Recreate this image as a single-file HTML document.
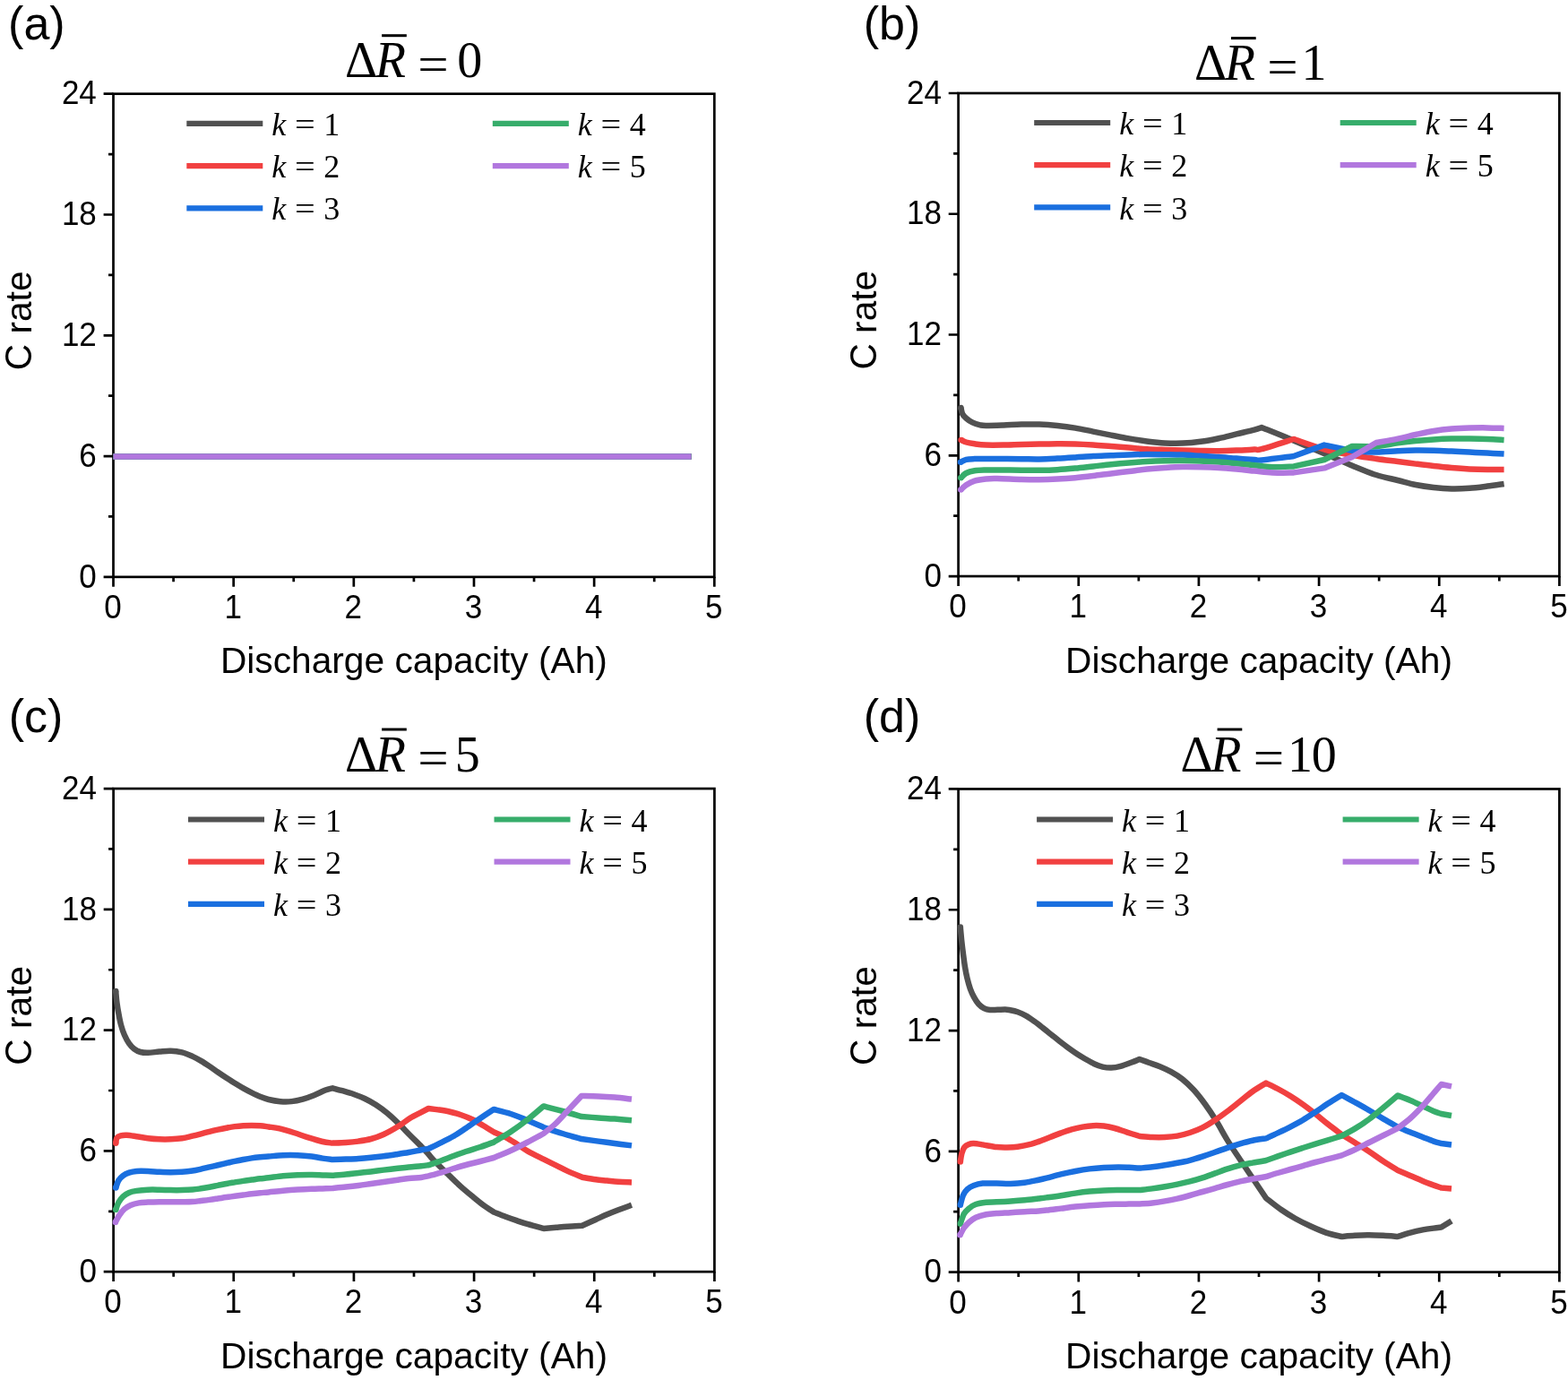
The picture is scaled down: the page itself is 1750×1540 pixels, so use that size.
<!DOCTYPE html>
<html lang="en"><head><meta charset="utf-8"><title>C rate vs discharge capacity</title>
<style>
html,body{margin:0;padding:0;background:#fff;}
body{width:1750px;height:1540px;overflow:hidden;}
svg{display:block;}
text{fill:#000;}
.tk text{font-family:"Liberation Sans",sans-serif;font-size:35px;}
.lab{font-family:"Liberation Sans",sans-serif;font-size:40.7px;}
.pan{font-family:"Liberation Sans",sans-serif;font-size:52px;}
.leg text{font-family:"Liberation Serif",serif;font-size:36px;}
.tit text{font-family:"Liberation Serif",serif;font-size:56px;}
</style></head><body>
<svg width="1750" height="1540" viewBox="0 0 1750 1540">
<rect width="1750" height="1540" fill="#fff"/>
<g class="panel" id="panel-a">
<rect x="126.5" y="104.7" width="670.8" height="539.15" fill="none" stroke="#000" stroke-width="2.7"/>
<path d="M126.5 643.85 v10.9M193.58 643.85 v5.5M260.66 643.85 v10.9M327.74 643.85 v5.5M394.82 643.85 v10.9M461.9 643.85 v5.5M528.98 643.85 v10.9M596.06 643.85 v5.5M663.14 643.85 v10.9M730.22 643.85 v5.5M797.3 643.85 v10.9M126.5 643.85 h-10.9M126.5 576.46 h-5.5M126.5 509.06 h-10.9M126.5 441.67 h-5.5M126.5 374.28 h-10.9M126.5 306.88 h-5.5M126.5 239.49 h-10.9M126.5 172.09 h-5.5M126.5 104.7 h-10.9" stroke="#000" stroke-width="2.7" fill="none"/>
<g fill="none" stroke-width="6.5" stroke-linejoin="round" stroke-linecap="butt">
<path stroke="#515151" d="M126.5 509.5L771.4 509.5"/>
<path stroke="#F14040" d="M126.5 509.5L771.4 509.5"/>
<path stroke="#1A6FDF" d="M126.5 509.5L771.4 509.5"/>
<path stroke="#37AD6B" d="M126.5 509.5L771.4 509.5"/>
<path stroke="#B177DE" d="M126.5 509.5L771.4 509.5"/>
</g>
<g class="tk" text-anchor="middle">
<text transform="translate(126 689.8) scale(1 1.04)">0</text>
<text transform="translate(260.16 689.8) scale(1 1.04)">1</text>
<text transform="translate(394.32 689.8) scale(1 1.04)">2</text>
<text transform="translate(528.48 689.8) scale(1 1.04)">3</text>
<text transform="translate(662.64 689.8) scale(1 1.04)">4</text>
<text transform="translate(796.8 689.8) scale(1 1.04)">5</text>
</g>
<g class="tk" text-anchor="end">
<text transform="translate(107.8 655.55) scale(1 1.04)">0</text>
<text transform="translate(107.8 520.76) scale(1 1.04)">6</text>
<text transform="translate(107.8 385.98) scale(1 1.04)">12</text>
<text transform="translate(107.8 251.19) scale(1 1.04)">18</text>
<text transform="translate(107.8 116.4) scale(1 1.04)">24</text>
</g>
<text class="lab" text-anchor="middle" transform="translate(461.9 751.3) scale(1 1.01)">Discharge capacity (Ah)</text>
<g transform="translate(35.3 357.9) rotate(-90)"><text class="lab" transform="translate(-55.41 0) scale(1 1.045)">C</text><text class="lab" x="-14.71" y="0">rate</text></g>
<text class="pan" x="9.1" y="44.4">(a)</text>
<g class="tit">
<text x="385" y="86.3">Δ</text>
<text x="418.8" y="86.3" font-style="italic">R</text>
<text transform="translate(466.3 91) scale(1.09 1)">=</text>
<text x="510.2" y="86.3">0</text>
<rect x="426.1" y="38.2" width="27.7" height="3" fill="#000"/>
</g>
<g class="leg">
<line x1="208.3" y1="137.9" x2="293.3" y2="137.9" stroke="#515151" stroke-width="6.2"/>
<text x="303.3" y="151" font-style="italic">k</text>
<text transform="translate(329 151) scale(1.12 1)">=</text>
<text x="361.3" y="151">1</text>
<line x1="208.3" y1="185.1" x2="293.3" y2="185.1" stroke="#F14040" stroke-width="6.2"/>
<text x="303.3" y="198.2" font-style="italic">k</text>
<text transform="translate(329 198.2) scale(1.12 1)">=</text>
<text x="361.3" y="198.2">2</text>
<line x1="208.3" y1="232.3" x2="293.3" y2="232.3" stroke="#1A6FDF" stroke-width="6.2"/>
<text x="303.3" y="245.4" font-style="italic">k</text>
<text transform="translate(329 245.4) scale(1.12 1)">=</text>
<text x="361.3" y="245.4">3</text>
<line x1="549.8" y1="137.9" x2="634.8" y2="137.9" stroke="#37AD6B" stroke-width="6.2"/>
<text x="644.8" y="151" font-style="italic">k</text>
<text transform="translate(670.5 151) scale(1.12 1)">=</text>
<text x="702.8" y="151">4</text>
<line x1="549.8" y1="185.1" x2="634.8" y2="185.1" stroke="#B177DE" stroke-width="6.2"/>
<text x="644.8" y="198.2" font-style="italic">k</text>
<text transform="translate(670.5 198.2) scale(1.12 1)">=</text>
<text x="702.8" y="198.2">5</text>
</g>
</g>
<g class="panel" id="panel-b">
<rect x="1069.6" y="104" width="670.8" height="539.05" fill="none" stroke="#000" stroke-width="2.7"/>
<path d="M1069.6 643.05 v10.9M1136.68 643.05 v5.5M1203.76 643.05 v10.9M1270.84 643.05 v5.5M1337.92 643.05 v10.9M1405 643.05 v5.5M1472.08 643.05 v10.9M1539.16 643.05 v5.5M1606.24 643.05 v10.9M1673.32 643.05 v5.5M1740.4 643.05 v10.9M1069.6 643.05 h-10.9M1069.6 575.67 h-5.5M1069.6 508.29 h-10.9M1069.6 440.91 h-5.5M1069.6 373.52 h-10.9M1069.6 306.14 h-5.5M1069.6 238.76 h-10.9M1069.6 171.38 h-5.5M1069.6 104 h-10.9" stroke="#000" stroke-width="2.7" fill="none"/>
<g fill="none" stroke-width="6.5" stroke-linejoin="round" stroke-linecap="butt">
<path stroke="#515151" d="M1072.4 455C1072.7 456.17 1073.22 460.05 1074.2 462C1075.18 463.95 1076.47 465.13 1078.3 466.7C1080.13 468.27 1082.58 470.13 1085.2 471.4C1087.82 472.67 1091.48 473.72 1094 474.3C1096.52 474.88 1095.97 474.88 1100.3 474.9C1104.63 474.92 1113.38 474.62 1120 474.4C1126.62 474.18 1133.33 473.73 1140 473.6C1146.67 473.47 1153.33 473.37 1160 473.6C1166.67 473.83 1173.33 474.33 1180 475C1186.67 475.67 1193.33 476.5 1200 477.6C1206.67 478.7 1213.33 480.27 1220 481.6C1226.67 482.93 1233.33 484.3 1240 485.6C1246.67 486.9 1253.33 488.27 1260 489.4C1266.67 490.53 1273.33 491.57 1280 492.4C1286.67 493.23 1293.33 494.03 1300 494.4C1306.67 494.77 1313.33 494.87 1320 494.6C1326.67 494.33 1333.33 493.7 1340 492.8C1346.67 491.9 1353.33 490.6 1360 489.2C1366.67 487.8 1373.33 486 1380 484.4C1386.67 482.8 1395.33 480.83 1400 479.6C1404.67 478.37 1406.67 477.43 1408 477C1413.33 479.17 1428 485 1440 490C1452 495 1468.33 502 1480 507C1491.67 512 1500.67 516.17 1510 520C1519.33 523.83 1527.67 527.33 1536 530C1544.33 532.67 1552.67 534.17 1560 536C1567.33 537.83 1573.33 539.67 1580 541C1586.67 542.33 1593.33 543.27 1600 544C1606.67 544.73 1613.33 545.27 1620 545.4C1626.67 545.53 1633.33 545.27 1640 544.8C1646.67 544.33 1653.57 543.4 1660 542.6C1666.43 541.8 1675.5 540.43 1678.6 540"/>
<circle cx="1072.4" cy="455" r="3.25" fill="#515151" stroke="none"/>
<path stroke="#F14040" d="M1072.6 490.9C1073.55 491.33 1075.78 492.77 1078.3 493.5C1080.82 494.23 1084.03 494.78 1087.7 495.3C1091.37 495.82 1094.92 496.38 1100.3 496.6C1105.68 496.82 1113.38 496.7 1120 496.6C1126.62 496.5 1133.33 496.17 1140 496C1146.67 495.83 1153.33 495.73 1160 495.6C1166.67 495.47 1173.33 495.23 1180 495.2C1186.67 495.17 1193.33 495.2 1200 495.4C1206.67 495.6 1213.33 495.97 1220 496.4C1226.67 496.83 1233.33 497.47 1240 498C1246.67 498.53 1253.33 499.07 1260 499.6C1266.67 500.13 1273.33 500.8 1280 501.2C1286.67 501.6 1293.33 501.77 1300 502C1306.67 502.23 1313.33 502.43 1320 502.6C1326.67 502.77 1333.33 502.9 1340 503C1346.67 503.1 1353.33 503.27 1360 503.2C1366.67 503.13 1373.33 502.87 1380 502.6C1386.67 502.33 1395.33 501.83 1400 501.6C1404.67 501.37 1400.67 503.13 1408 501.2C1415.33 499.27 1438 491.87 1444 490C1450 492 1469 499 1480 502C1491 505 1500.67 506.33 1510 508C1519.33 509.67 1527.67 510.83 1536 512C1544.33 513.17 1552.67 514.07 1560 515C1567.33 515.93 1573.33 516.77 1580 517.6C1586.67 518.43 1593.33 519.27 1600 520C1606.67 520.73 1613.33 521.43 1620 522C1626.67 522.57 1633.33 523.07 1640 523.4C1646.67 523.73 1653.57 523.9 1660 524C1666.43 524.1 1675.5 524 1678.6 524"/>
<circle cx="1072.6" cy="490.9" r="3.25" fill="#F14040" stroke="none"/>
<path stroke="#1A6FDF" d="M1072 515.7C1073.05 515.22 1075.68 513.4 1078.3 512.8C1080.92 512.2 1081.93 512.25 1087.7 512.1C1093.47 511.95 1104.18 511.88 1112.9 511.9C1121.62 511.92 1132.15 512.12 1140 512.2C1147.85 512.28 1153.33 512.5 1160 512.4C1166.67 512.3 1173.33 511.93 1180 511.6C1186.67 511.27 1193.33 510.83 1200 510.4C1206.67 509.97 1213.33 509.37 1220 509C1226.67 508.63 1233.33 508.47 1240 508.2C1246.67 507.93 1253.33 507.6 1260 507.4C1266.67 507.2 1273.33 507.03 1280 507C1286.67 506.97 1293.33 507.1 1300 507.2C1306.67 507.3 1313.33 507.33 1320 507.6C1326.67 507.87 1333.33 508.4 1340 508.8C1346.67 509.2 1353.33 509.53 1360 510C1366.67 510.47 1373.33 511.1 1380 511.6C1386.67 512.1 1395.33 512.7 1400 513C1404.67 513.3 1400.67 514.07 1408 513.4C1415.33 512.73 1438 509.73 1444 509L1478 496.6C1483.33 497.67 1500.33 501.7 1510 503C1519.67 504.3 1527.67 504.37 1536 504.4C1544.33 504.43 1552.67 503.5 1560 503.2C1567.33 502.9 1573.33 502.67 1580 502.6C1586.67 502.53 1593.33 502.63 1600 502.8C1606.67 502.97 1613.33 503.3 1620 503.6C1626.67 503.9 1633.33 504.27 1640 504.6C1646.67 504.93 1653.57 505.27 1660 505.6C1666.43 505.93 1675.5 506.43 1678.6 506.6"/>
<circle cx="1072" cy="515.7" r="3.25" fill="#1A6FDF" stroke="none"/>
<path stroke="#37AD6B" d="M1072.3 533.3C1073.3 532.42 1075.73 529.33 1078.3 528C1080.87 526.67 1084.03 525.88 1087.7 525.3C1091.37 524.72 1096.1 524.67 1100.3 524.52C1104.5 524.37 1106.28 524.37 1112.9 524.4C1119.52 524.43 1132.15 524.63 1140 524.7C1147.85 524.77 1153.33 524.88 1160 524.8C1166.67 524.72 1173.33 524.57 1180 524.2C1186.67 523.83 1193.33 523.23 1200 522.6C1206.67 521.97 1213.33 521.13 1220 520.4C1226.67 519.67 1233.33 518.87 1240 518.2C1246.67 517.53 1253.33 516.93 1260 516.4C1266.67 515.87 1273.33 515.37 1280 515C1286.67 514.63 1293.33 514.37 1300 514.2C1306.67 514.03 1313.33 513.97 1320 514C1326.67 514.03 1333.33 514.13 1340 514.4C1346.67 514.67 1353.33 515.13 1360 515.6C1366.67 516.07 1373.33 516.6 1380 517.2C1386.67 517.8 1393.33 518.53 1400 519.2C1406.67 519.87 1412.67 521 1420 521.2C1427.33 521.4 1440 520.53 1444 520.4L1478 513L1509 498C1513.5 498 1527.5 498.6 1536 498C1544.5 497.4 1552.67 495.4 1560 494.4C1567.33 493.4 1573.33 492.67 1580 492C1586.67 491.33 1593.33 490.8 1600 490.4C1606.67 490 1613.33 489.73 1620 489.6C1626.67 489.47 1633.33 489.53 1640 489.6C1646.67 489.67 1653.57 489.77 1660 490C1666.43 490.23 1675.5 490.83 1678.6 491"/>
<circle cx="1072.3" cy="533.3" r="3.25" fill="#37AD6B" stroke="none"/>
<path stroke="#B177DE" d="M1072.3 546.54C1073.3 545.65 1075.73 542.86 1078.3 541.2C1080.87 539.54 1084.03 537.73 1087.7 536.6C1091.37 535.47 1096.1 534.82 1100.3 534.4C1104.5 533.98 1106.28 534 1112.9 534.1C1119.52 534.2 1132.15 534.82 1140 535C1147.85 535.18 1153.33 535.27 1160 535.2C1166.67 535.13 1173.33 534.93 1180 534.6C1186.67 534.27 1193.33 533.8 1200 533.2C1206.67 532.6 1213.33 531.8 1220 531C1226.67 530.2 1233.33 529.23 1240 528.4C1246.67 527.57 1253.33 526.8 1260 526C1266.67 525.2 1273.33 524.27 1280 523.6C1286.67 522.93 1293.33 522.43 1300 522C1306.67 521.57 1313.33 521.13 1320 521C1326.67 520.87 1333.33 521.03 1340 521.2C1346.67 521.37 1353.33 521.6 1360 522C1366.67 522.4 1373.33 523 1380 523.6C1386.67 524.2 1393.33 524.93 1400 525.6C1406.67 526.27 1412.67 527.3 1420 527.6C1427.33 527.9 1440 527.43 1444 527.4L1478 522.4L1509 510L1536 494C1540 493.27 1552.67 491.1 1560 489.6C1567.33 488.1 1573.33 486.43 1580 485C1586.67 483.57 1593.33 482.07 1600 481C1606.67 479.93 1613.33 479.17 1620 478.6C1626.67 478.03 1633.33 477.8 1640 477.6C1646.67 477.4 1653.57 477.33 1660 477.4C1666.43 477.47 1675.5 477.9 1678.6 478"/>
<circle cx="1072.3" cy="546.54" r="3.25" fill="#B177DE" stroke="none"/>
</g>
<g class="tk" text-anchor="middle">
<text transform="translate(1069.1 689) scale(1 1.04)">0</text>
<text transform="translate(1203.26 689) scale(1 1.04)">1</text>
<text transform="translate(1337.42 689) scale(1 1.04)">2</text>
<text transform="translate(1471.58 689) scale(1 1.04)">3</text>
<text transform="translate(1605.74 689) scale(1 1.04)">4</text>
<text transform="translate(1739.9 689) scale(1 1.04)">5</text>
</g>
<g class="tk" text-anchor="end">
<text transform="translate(1050.9 654.75) scale(1 1.04)">0</text>
<text transform="translate(1050.9 519.99) scale(1 1.04)">6</text>
<text transform="translate(1050.9 385.22) scale(1 1.04)">12</text>
<text transform="translate(1050.9 250.46) scale(1 1.04)">18</text>
<text transform="translate(1050.9 115.7) scale(1 1.04)">24</text>
</g>
<text class="lab" text-anchor="middle" transform="translate(1405 750.5) scale(1 1.01)">Discharge capacity (Ah)</text>
<g transform="translate(978.4 357.2) rotate(-90)"><text class="lab" transform="translate(-55.41 0) scale(1 1.045)">C</text><text class="lab" x="-14.71" y="0">rate</text></g>
<text class="pan" x="963.8" y="44.3">(b)</text>
<g class="tit">
<text x="1332.9" y="89.2">Δ</text>
<text x="1366.7" y="89.2" font-style="italic">R</text>
<text transform="translate(1414.2 93.9) scale(1.09 1)">=</text>
<text x="1452.6" y="89.2">1</text>
<rect x="1374" y="41.1" width="27.7" height="3" fill="#000"/>
</g>
<g class="leg">
<line x1="1154.2" y1="137" x2="1239.2" y2="137" stroke="#515151" stroke-width="6.2"/>
<text x="1249.2" y="150.1" font-style="italic">k</text>
<text transform="translate(1274.9 150.1) scale(1.12 1)">=</text>
<text x="1307.2" y="150.1">1</text>
<line x1="1154.2" y1="184.2" x2="1239.2" y2="184.2" stroke="#F14040" stroke-width="6.2"/>
<text x="1249.2" y="197.3" font-style="italic">k</text>
<text transform="translate(1274.9 197.3) scale(1.12 1)">=</text>
<text x="1307.2" y="197.3">2</text>
<line x1="1154.2" y1="231.4" x2="1239.2" y2="231.4" stroke="#1A6FDF" stroke-width="6.2"/>
<text x="1249.2" y="244.5" font-style="italic">k</text>
<text transform="translate(1274.9 244.5) scale(1.12 1)">=</text>
<text x="1307.2" y="244.5">3</text>
<line x1="1495.7" y1="137" x2="1580.7" y2="137" stroke="#37AD6B" stroke-width="6.2"/>
<text x="1590.7" y="150.1" font-style="italic">k</text>
<text transform="translate(1616.4 150.1) scale(1.12 1)">=</text>
<text x="1648.7" y="150.1">4</text>
<line x1="1495.7" y1="184.2" x2="1580.7" y2="184.2" stroke="#B177DE" stroke-width="6.2"/>
<text x="1590.7" y="197.3" font-style="italic">k</text>
<text transform="translate(1616.4 197.3) scale(1.12 1)">=</text>
<text x="1648.7" y="197.3">5</text>
</g>
</g>
<g class="panel" id="panel-c">
<rect x="126.6" y="880.05" width="670.8" height="539.15" fill="none" stroke="#000" stroke-width="2.7"/>
<path d="M126.6 1419.2 v10.9M193.68 1419.2 v5.5M260.76 1419.2 v10.9M327.84 1419.2 v5.5M394.92 1419.2 v10.9M462 1419.2 v5.5M529.08 1419.2 v10.9M596.16 1419.2 v5.5M663.24 1419.2 v10.9M730.32 1419.2 v5.5M797.4 1419.2 v10.9M126.6 1419.2 h-10.9M126.6 1351.81 h-5.5M126.6 1284.41 h-10.9M126.6 1217.02 h-5.5M126.6 1149.62 h-10.9M126.6 1082.23 h-5.5M126.6 1014.84 h-10.9M126.6 947.44 h-5.5M126.6 880.05 h-10.9" stroke="#000" stroke-width="2.7" fill="none"/>
<g fill="none" stroke-width="6.5" stroke-linejoin="round" stroke-linecap="butt">
<path stroke="#515151" d="M129.2 1106C129.42 1108.25 129.93 1115.13 130.5 1119.5C131.07 1123.87 131.83 1128.12 132.6 1132.2C133.37 1136.28 134.05 1140.2 135.1 1144C136.15 1147.8 137.42 1151.62 138.9 1155C140.38 1158.38 142.17 1161.7 144 1164.3C145.83 1166.9 147.78 1168.98 149.9 1170.6C152.02 1172.22 154.17 1173.3 156.7 1174C159.23 1174.7 161.58 1174.87 165.1 1174.8C168.62 1174.73 173.58 1173.95 177.8 1173.6C182.02 1173.25 186.18 1172.57 190.4 1172.7C194.62 1172.83 199.02 1173.37 203.1 1174.4C207.18 1175.43 211.37 1177.32 214.9 1178.9C218.43 1180.48 221.17 1182.07 224.3 1183.9C227.43 1185.73 230.55 1187.8 233.7 1189.9C236.85 1192 240.05 1194.35 243.2 1196.5C246.35 1198.65 249.47 1200.77 252.6 1202.8C255.73 1204.83 258.85 1206.77 262 1208.7C265.15 1210.63 268.35 1212.62 271.5 1214.4C274.65 1216.18 277.77 1217.83 280.9 1219.4C284.03 1220.97 287.15 1222.53 290.3 1223.8C293.45 1225.07 296.04 1226.1 299.8 1227C303.56 1227.9 308.59 1228.84 312.86 1229.2C317.13 1229.56 321.21 1229.57 325.4 1229.14C329.59 1228.71 333.81 1227.75 338 1226.6C342.19 1225.45 346.37 1223.89 350.56 1222.22C354.75 1220.55 359.68 1217.88 363.14 1216.56C366.6 1215.24 369.94 1214.68 371.3 1214.3C373.08 1214.78 378.12 1216.09 382 1217.2C385.88 1218.31 390.38 1219.49 394.56 1220.96C398.74 1222.43 402.91 1223.99 407.1 1226C411.29 1228.01 415.45 1230.25 419.7 1233C423.95 1235.75 428.35 1238.97 432.6 1242.5C436.85 1246.03 441.02 1250.12 445.2 1254.2C449.38 1258.28 453.52 1262.78 457.7 1267C461.88 1271.22 466.88 1276.02 470.3 1279.5C473.72 1282.98 476.88 1286.5 478.2 1287.9C478.98 1288.85 480.02 1290.55 482.9 1293.6C485.78 1296.65 492.41 1303.15 495.5 1306.2C498.59 1309.25 498.34 1308.94 501.42 1311.88C504.5 1314.82 509.81 1320.05 514 1323.82C518.19 1327.59 522.39 1331.06 526.58 1334.52C530.77 1337.98 534.99 1341.54 539.14 1344.58C543.29 1347.62 549.41 1351.38 551.46 1352.74C553.6 1353.58 560.05 1356.21 564.28 1357.78C568.51 1359.35 572.67 1360.78 576.86 1362.18C581.05 1363.58 584.43 1364.73 589.42 1366.2C594.41 1367.67 603.89 1370.18 606.78 1370.98C609.13 1370.77 616.42 1370.1 620.86 1369.72C625.3 1369.34 628.6 1369.02 633.42 1368.7C638.24 1368.38 647.05 1367.97 649.78 1367.82C652.29 1366.67 660.25 1363.01 664.86 1360.92C669.47 1358.83 673.23 1357.04 677.42 1355.26C681.61 1353.48 685.4 1351.96 690 1350.22C694.6 1348.48 702.5 1345.7 705 1344.8"/>
<circle cx="129.2" cy="1106" r="3.25" fill="#515151" stroke="none"/>
<path stroke="#F14040" d="M129.2 1275.75C129.42 1274.76 129.58 1271.21 130.5 1269.8C131.42 1268.39 132.87 1267.82 134.7 1267.3C136.53 1266.78 138.55 1266.55 141.5 1266.7C144.45 1266.85 148.47 1267.6 152.4 1268.2C156.33 1268.8 160.87 1269.78 165.1 1270.3C169.33 1270.82 173.58 1271.13 177.8 1271.3C182.02 1271.47 186.18 1271.47 190.4 1271.3C194.62 1271.13 199.02 1270.9 203.1 1270.3C207.18 1269.7 211.33 1268.53 214.86 1267.7C218.39 1266.87 221.15 1266.14 224.3 1265.32C227.45 1264.5 230.6 1263.59 233.74 1262.8C236.88 1262.01 240.02 1261.28 243.16 1260.6C246.3 1259.92 249.45 1259.3 252.6 1258.72C255.75 1258.14 258.89 1257.56 262.04 1257.14C265.19 1256.72 268.34 1256.41 271.48 1256.2C274.62 1255.99 277.76 1255.88 280.9 1255.88C284.04 1255.88 287.19 1255.94 290.34 1256.2C293.49 1256.46 296.17 1256.93 299.78 1257.46C303.39 1257.99 307.3 1258.31 312 1259.4C316.7 1260.49 322.67 1262.33 328 1264C333.33 1265.67 338.67 1267.73 344 1269.4C349.33 1271.07 355.5 1272.97 360 1274C364.5 1275.03 369.17 1275.33 371 1275.6C373.5 1275.5 381.17 1275.33 386 1275C390.83 1274.67 395.33 1274.27 400 1273.6C404.67 1272.93 409.33 1272.27 414 1271C418.67 1269.73 422.8 1268.42 428 1266C433.2 1263.58 440.25 1259.55 445.2 1256.5C450.15 1253.45 453.52 1250.27 457.7 1247.7C461.88 1245.13 466.88 1242.88 470.3 1241.1C473.72 1239.32 476.88 1237.68 478.2 1237C479.98 1237.22 484.99 1237.76 488.86 1238.34C492.73 1238.92 497.23 1239.54 501.42 1240.48C505.61 1241.42 509.81 1242.58 514 1244C518.19 1245.42 522.39 1247.03 526.58 1249.02C530.77 1251.01 534.99 1253.53 539.14 1255.94C543.29 1258.35 549.41 1262.22 551.46 1263.48C553.6 1264.42 560.05 1266.94 564.28 1269.14C568.51 1271.34 572.67 1274.06 576.86 1276.68C581.05 1279.3 584.43 1282.03 589.42 1284.86C594.41 1287.69 603.89 1292.19 606.78 1293.66C609.13 1294.81 616.42 1298.38 620.86 1300.58C625.3 1302.78 628.6 1304.66 633.42 1306.86C638.24 1309.06 647.05 1312.63 649.78 1313.78C652.29 1314.2 660.25 1315.65 664.86 1316.28C669.47 1316.91 673.23 1317.12 677.42 1317.54C681.61 1317.96 685.4 1318.49 690 1318.8C694.6 1319.11 702.5 1319.3 705 1319.4"/>
<circle cx="129.2" cy="1275.75" r="3.25" fill="#F14040" stroke="none"/>
<path stroke="#1A6FDF" d="M129.2 1325.6C129.7 1324.25 130.87 1319.75 132.2 1317.5C133.53 1315.25 135.23 1313.57 137.2 1312.1C139.17 1310.63 141.47 1309.55 144 1308.7C146.53 1307.85 148.88 1307.28 152.4 1307C155.92 1306.72 160.87 1306.87 165.1 1307C169.33 1307.13 173.58 1307.6 177.8 1307.8C182.02 1308 186.18 1308.2 190.4 1308.2C194.62 1308.2 199.02 1308.08 203.1 1307.8C207.18 1307.52 211.33 1307.05 214.86 1306.52C218.39 1305.99 221.15 1305.3 224.3 1304.62C227.45 1303.94 230.6 1303.15 233.74 1302.42C236.88 1301.69 240.02 1300.95 243.16 1300.22C246.3 1299.49 249.45 1298.75 252.6 1298.02C255.75 1297.29 258.89 1296.5 262.04 1295.82C265.19 1295.14 268.34 1294.52 271.48 1293.94C274.62 1293.36 277.76 1292.8 280.9 1292.36C284.04 1291.92 287.19 1291.61 290.34 1291.3C293.49 1290.99 295.5 1290.85 299.78 1290.5C304.06 1290.15 310.63 1289.42 316 1289.2C321.37 1288.98 326.67 1288.97 332 1289.2C337.33 1289.43 343.33 1290.03 348 1290.6C352.67 1291.17 356.17 1292.03 360 1292.6C363.83 1293.17 369.17 1293.77 371 1294C373.5 1293.93 381.17 1293.77 386 1293.6C390.83 1293.43 395.33 1293.3 400 1293C404.67 1292.7 409.33 1292.27 414 1291.8C418.67 1291.33 423.33 1290.8 428 1290.2C432.67 1289.6 437.33 1288.9 442 1288.2C446.67 1287.5 451.28 1286.83 456 1286C460.72 1285.17 466.6 1283.88 470.3 1283.2C474 1282.52 476.88 1282.12 478.2 1281.9C480.03 1281.02 484.57 1278.92 489.2 1276.6C493.83 1274.28 500.87 1270.93 506 1268C511.13 1265.07 515 1262.33 520 1259C525 1255.67 530.83 1251.5 536 1248C541.17 1244.5 548.5 1239.67 551 1238C554.17 1238.83 563.83 1241 570 1243C576.17 1245 581.9 1247.5 588 1250C594.1 1252.5 603.5 1256.67 606.6 1258C610.17 1259.17 620.93 1262.83 628 1265C635.07 1267.17 645.5 1270 649 1271C652.17 1271.43 661.83 1272.77 668 1273.6C674.17 1274.43 679.83 1275.2 686 1276C692.17 1276.8 701.83 1278 705 1278.4"/>
<circle cx="129.2" cy="1325.6" r="3.25" fill="#1A6FDF" stroke="none"/>
<path stroke="#37AD6B" d="M129.2 1350C129.7 1348.67 130.87 1344.45 132.2 1342C133.53 1339.55 135.23 1337.13 137.2 1335.3C139.17 1333.47 141.47 1332.07 144 1331C146.53 1329.93 148.88 1329.45 152.4 1328.9C155.92 1328.35 160.87 1327.9 165.1 1327.7C169.33 1327.5 173.58 1327.63 177.8 1327.7C182.02 1327.77 186.18 1328.03 190.4 1328.1C194.62 1328.17 199.02 1328.19 203.1 1328.1C207.18 1328.01 211.33 1327.88 214.86 1327.58C218.39 1327.28 221.15 1326.79 224.3 1326.32C227.45 1325.85 230.6 1325.34 233.74 1324.76C236.88 1324.18 240.02 1323.49 243.16 1322.86C246.3 1322.23 249.45 1321.56 252.6 1320.98C255.75 1320.4 258.89 1319.92 262.04 1319.4C265.19 1318.88 268.34 1318.31 271.48 1317.84C274.62 1317.37 277.76 1317 280.9 1316.58C284.04 1316.16 287.19 1315.7 290.34 1315.32C293.49 1314.94 295.5 1314.82 299.78 1314.3C304.06 1313.78 310.63 1312.72 316 1312.2C321.37 1311.68 326.67 1311.4 332 1311.2C337.33 1311 343.33 1310.97 348 1311C352.67 1311.03 356.17 1311.27 360 1311.4C363.83 1311.53 369.17 1311.73 371 1311.8C373.5 1311.6 381.17 1311.07 386 1310.6C390.83 1310.13 395.33 1309.53 400 1309C404.67 1308.47 409.33 1307.97 414 1307.4C418.67 1306.83 423.33 1306.17 428 1305.6C432.67 1305.03 437.33 1304.53 442 1304C446.67 1303.47 451.33 1302.87 456 1302.4C460.67 1301.93 466.3 1301.57 470 1301.2C473.7 1300.83 476.83 1300.37 478.2 1300.2C480.03 1299.57 484.57 1298.1 489.2 1296.4C493.83 1294.7 500.87 1291.9 506 1290C511.13 1288.1 515 1286.67 520 1285C525 1283.33 530.83 1281.73 536 1280C541.17 1278.27 548.5 1275.5 551 1274.6C554.17 1272.67 563.83 1267.1 570 1263C576.17 1258.9 581.9 1254.77 588 1250C594.1 1245.23 603.5 1237 606.6 1234.4C610.17 1235.33 620.93 1238.07 628 1240C635.07 1241.93 645.5 1245 649 1246C652.17 1246.23 661.83 1246.97 668 1247.4C674.17 1247.83 679.83 1248.13 686 1248.6C692.17 1249.07 701.83 1249.93 705 1250.2"/>
<circle cx="129.2" cy="1350" r="3.25" fill="#37AD6B" stroke="none"/>
<path stroke="#B177DE" d="M128.8 1364C129.5 1362.73 131.32 1358.87 133 1356.4C134.68 1353.93 136.78 1351.1 138.9 1349.2C141.02 1347.3 143.02 1346.13 145.7 1345C148.38 1343.87 151.77 1342.97 155 1342.4C158.23 1341.83 161.3 1341.8 165.1 1341.6C168.9 1341.4 173.58 1341.25 177.8 1341.2C182.02 1341.15 186.18 1341.28 190.4 1341.3C194.62 1341.32 199.02 1341.33 203.1 1341.3C207.18 1341.27 211.33 1341.31 214.86 1341.1C218.39 1340.89 221.15 1340.41 224.3 1340.04C227.45 1339.67 230.6 1339.32 233.74 1338.9C236.88 1338.48 240.02 1337.99 243.16 1337.52C246.3 1337.05 249.45 1336.53 252.6 1336.08C255.75 1335.63 258.89 1335.24 262.04 1334.82C265.19 1334.4 268.34 1333.98 271.48 1333.56C274.62 1333.14 277.76 1332.69 280.9 1332.3C284.04 1331.91 287.19 1331.55 290.34 1331.24C293.49 1330.93 295.5 1330.83 299.78 1330.42C304.06 1330.01 310.63 1329.27 316 1328.8C321.37 1328.33 326.67 1327.93 332 1327.6C337.33 1327.27 343.33 1327 348 1326.8C352.67 1326.6 356.17 1326.53 360 1326.4C363.83 1326.27 369.17 1326.07 371 1326C373.5 1325.77 381.17 1325.1 386 1324.6C390.83 1324.1 395.33 1323.6 400 1323C404.67 1322.4 409.33 1321.67 414 1321C418.67 1320.33 423.33 1319.67 428 1319C432.67 1318.33 437.33 1317.67 442 1317C446.67 1316.33 451.33 1315.5 456 1315C460.67 1314.5 466.33 1314.43 470 1314C473.67 1313.57 476.67 1312.67 478 1312.4C480.33 1311.77 487.33 1310 492 1308.6C496.67 1307.2 501.33 1305.43 506 1304C510.67 1302.57 515 1301.33 520 1300C525 1298.67 530.83 1297.33 536 1296C541.17 1294.67 548.5 1292.67 551 1292C554.17 1290.67 563.83 1286.83 570 1284C576.17 1281.17 581.9 1278.17 588 1275C594.1 1271.83 603.5 1266.67 606.6 1265C608.83 1263.17 615.43 1258.33 620 1254C624.57 1249.67 629.17 1244.17 634 1239C638.83 1233.83 646.5 1225.67 649 1223C652.17 1223.07 661.83 1223.13 668 1223.4C674.17 1223.67 679.83 1224.07 686 1224.6C692.17 1225.13 701.83 1226.27 705 1226.6"/>
<circle cx="128.8" cy="1364" r="3.25" fill="#B177DE" stroke="none"/>
</g>
<g class="tk" text-anchor="middle">
<text transform="translate(126.1 1465.15) scale(1 1.04)">0</text>
<text transform="translate(260.26 1465.15) scale(1 1.04)">1</text>
<text transform="translate(394.42 1465.15) scale(1 1.04)">2</text>
<text transform="translate(528.58 1465.15) scale(1 1.04)">3</text>
<text transform="translate(662.74 1465.15) scale(1 1.04)">4</text>
<text transform="translate(796.9 1465.15) scale(1 1.04)">5</text>
</g>
<g class="tk" text-anchor="end">
<text transform="translate(107.9 1430.9) scale(1 1.04)">0</text>
<text transform="translate(107.9 1296.11) scale(1 1.04)">6</text>
<text transform="translate(107.9 1161.33) scale(1 1.04)">12</text>
<text transform="translate(107.9 1026.54) scale(1 1.04)">18</text>
<text transform="translate(107.9 891.75) scale(1 1.04)">24</text>
</g>
<text class="lab" text-anchor="middle" transform="translate(462 1526.65) scale(1 1.01)">Discharge capacity (Ah)</text>
<g transform="translate(35.4 1133.25) rotate(-90)"><text class="lab" transform="translate(-55.41 0) scale(1 1.045)">C</text><text class="lab" x="-14.71" y="0">rate</text></g>
<text class="pan" x="9.8" y="817.3">(c)</text>
<g class="tit">
<text x="385" y="860.6">Δ</text>
<text x="418.8" y="860.6" font-style="italic">R</text>
<text transform="translate(466.3 865.3) scale(1.09 1)">=</text>
<text x="507.7" y="860.6">5</text>
<rect x="426.1" y="812.5" width="27.7" height="3" fill="#000"/>
</g>
<g class="leg">
<line x1="210" y1="914.5" x2="295" y2="914.5" stroke="#515151" stroke-width="6.2"/>
<text x="305" y="927.6" font-style="italic">k</text>
<text transform="translate(330.7 927.6) scale(1.12 1)">=</text>
<text x="363" y="927.6">1</text>
<line x1="210" y1="961.7" x2="295" y2="961.7" stroke="#F14040" stroke-width="6.2"/>
<text x="305" y="974.8" font-style="italic">k</text>
<text transform="translate(330.7 974.8) scale(1.12 1)">=</text>
<text x="363" y="974.8">2</text>
<line x1="210" y1="1008.9" x2="295" y2="1008.9" stroke="#1A6FDF" stroke-width="6.2"/>
<text x="305" y="1022" font-style="italic">k</text>
<text transform="translate(330.7 1022) scale(1.12 1)">=</text>
<text x="363" y="1022">3</text>
<line x1="551.5" y1="914.5" x2="636.5" y2="914.5" stroke="#37AD6B" stroke-width="6.2"/>
<text x="646.5" y="927.6" font-style="italic">k</text>
<text transform="translate(672.2 927.6) scale(1.12 1)">=</text>
<text x="704.5" y="927.6">4</text>
<line x1="551.5" y1="961.7" x2="636.5" y2="961.7" stroke="#B177DE" stroke-width="6.2"/>
<text x="646.5" y="974.8" font-style="italic">k</text>
<text transform="translate(672.2 974.8) scale(1.12 1)">=</text>
<text x="704.5" y="974.8">5</text>
</g>
</g>
<g class="panel" id="panel-d">
<rect x="1069.6" y="880.45" width="670.8" height="539.15" fill="none" stroke="#000" stroke-width="2.7"/>
<path d="M1069.6 1419.6 v10.9M1136.68 1419.6 v5.5M1203.76 1419.6 v10.9M1270.84 1419.6 v5.5M1337.92 1419.6 v10.9M1405 1419.6 v5.5M1472.08 1419.6 v10.9M1539.16 1419.6 v5.5M1606.24 1419.6 v10.9M1673.32 1419.6 v5.5M1740.4 1419.6 v10.9M1069.6 1419.6 h-10.9M1069.6 1352.21 h-5.5M1069.6 1284.81 h-10.9M1069.6 1217.42 h-5.5M1069.6 1150.03 h-10.9M1069.6 1082.63 h-5.5M1069.6 1015.24 h-10.9M1069.6 947.84 h-5.5M1069.6 880.45 h-10.9" stroke="#000" stroke-width="2.7" fill="none"/>
<g fill="none" stroke-width="6.5" stroke-linejoin="round" stroke-linecap="butt">
<path stroke="#515151" d="M1071.8 1034.4C1072.03 1036.92 1072.68 1044.58 1073.2 1049.5C1073.72 1054.42 1074.27 1058.97 1074.9 1063.9C1075.53 1068.83 1076.23 1074.45 1077 1079.1C1077.77 1083.75 1078.52 1087.72 1079.5 1091.8C1080.48 1095.88 1081.63 1100.08 1082.9 1103.6C1084.17 1107.12 1085.55 1110.08 1087.1 1112.9C1088.65 1115.72 1090.37 1118.47 1092.2 1120.5C1094.03 1122.53 1095.98 1124.02 1098.1 1125.1C1100.22 1126.18 1102.37 1126.72 1104.9 1127C1107.43 1127.28 1110.48 1126.88 1113.3 1126.8C1116.12 1126.72 1119.63 1126.47 1121.8 1126.5C1123.97 1126.53 1123.98 1126.55 1126.3 1127C1128.62 1127.45 1132.55 1128.1 1135.7 1129.2C1138.85 1130.3 1142.05 1131.82 1145.2 1133.6C1148.35 1135.38 1151.47 1137.65 1154.6 1139.9C1157.73 1142.15 1160.85 1144.63 1164 1147.1C1167.15 1149.57 1170.35 1152.18 1173.5 1154.7C1176.65 1157.22 1179.77 1159.75 1182.9 1162.2C1186.03 1164.65 1189.15 1167.1 1192.3 1169.4C1195.45 1171.7 1198.65 1173.95 1201.8 1176C1204.95 1178.05 1207.95 1179.83 1211.2 1181.7C1214.45 1183.57 1218.05 1185.72 1221.3 1187.2C1224.55 1188.68 1227.55 1189.87 1230.7 1190.6C1233.85 1191.33 1236.89 1191.72 1240.2 1191.6C1243.51 1191.48 1246.74 1190.9 1250.56 1189.88C1254.38 1188.86 1259.6 1186.79 1263.12 1185.48C1266.64 1184.17 1270.25 1182.58 1271.68 1182C1273.4 1182.62 1278.19 1184.34 1282 1185.72C1285.81 1187.1 1290.37 1188.52 1294.56 1190.26C1298.75 1192 1302.93 1193.81 1307.12 1196.16C1311.31 1198.51 1315.51 1200.99 1319.7 1204.34C1323.89 1207.69 1328.07 1211.67 1332.26 1216.28C1336.45 1220.89 1340.65 1226.25 1344.84 1232C1349.03 1237.75 1353.21 1244.03 1357.4 1250.8C1361.59 1257.57 1365.57 1265.4 1370 1272.6C1374.43 1279.8 1376.83 1283.27 1384 1294C1391.17 1304.73 1408.17 1329.83 1413 1337C1415.83 1339.17 1424.5 1346.17 1430 1350C1435.5 1353.83 1440.67 1357 1446 1360C1451.33 1363 1456.33 1365.4 1462 1368C1467.67 1370.6 1474.1 1373.6 1480 1375.6C1485.9 1377.6 1494.5 1379.27 1497.4 1380C1499.83 1379.8 1506.9 1379.1 1512 1378.8C1517.1 1378.5 1522.67 1378.2 1528 1378.2C1533.33 1378.2 1538.67 1378.5 1544 1378.8C1549.33 1379.1 1557.33 1379.8 1560 1380C1562.33 1379.27 1569.33 1376.87 1574 1375.6C1578.67 1374.33 1583.67 1373.23 1588 1372.4C1592.33 1371.57 1596.57 1371.07 1600 1370.6C1603.43 1370.13 1607.17 1369.77 1608.6 1369.6L1620 1362.4"/>
<circle cx="1071.8" cy="1034.4" r="3.25" fill="#515151" stroke="none"/>
<path stroke="#F14040" d="M1071.8 1296.5C1072.07 1294.93 1072.62 1289.83 1073.4 1287.1C1074.18 1284.37 1075.2 1281.78 1076.5 1280.1C1077.8 1278.42 1079.52 1277.67 1081.2 1277C1082.88 1276.33 1084.02 1276.03 1086.6 1276.1C1089.18 1276.17 1092.42 1276.73 1096.7 1277.4C1100.98 1278.07 1107.75 1279.58 1112.3 1280.1C1116.85 1280.62 1120.1 1280.57 1124 1280.5C1127.9 1280.43 1131.17 1280.35 1135.7 1279.7C1140.23 1279.05 1147.15 1277.62 1151.2 1276.6C1155.25 1275.58 1156.53 1274.87 1160 1273.6C1163.47 1272.33 1168 1270.53 1172 1269C1176 1267.47 1180 1265.83 1184 1264.4C1188 1262.97 1192 1261.53 1196 1260.4C1200 1259.27 1204 1258.3 1208 1257.6C1212 1256.9 1216 1256.37 1220 1256.2C1224 1256.03 1228 1256.13 1232 1256.6C1236 1257.07 1239.67 1257.83 1244 1259C1248.33 1260.17 1253.33 1262.1 1258 1263.6C1262.67 1265.1 1269.67 1267.27 1272 1268C1274.33 1268.17 1281.33 1268.83 1286 1269C1290.67 1269.17 1295.33 1269.23 1300 1269C1304.67 1268.77 1309.33 1268.43 1314 1267.6C1318.67 1266.77 1323.33 1265.53 1328 1264C1332.67 1262.47 1337.33 1260.73 1342 1258.4C1346.67 1256.07 1351.33 1253.07 1356 1250C1360.67 1246.93 1365.33 1243.5 1370 1240C1374.67 1236.5 1379.33 1232.67 1384 1229C1388.67 1225.33 1393.17 1221.4 1398 1218C1402.83 1214.6 1410.5 1210.17 1413 1208.6C1415.17 1209.67 1421.5 1212.6 1426 1215C1430.5 1217.4 1435.33 1220.1 1440 1223C1444.67 1225.9 1449.33 1229.07 1454 1232.4C1458.67 1235.73 1463.33 1239.33 1468 1243C1472.67 1246.67 1477.1 1250.57 1482 1254.4C1486.9 1258.23 1494.83 1264.07 1497.4 1266C1499.83 1267.5 1506.9 1271.83 1512 1275C1517.1 1278.17 1522.67 1281.5 1528 1285C1533.33 1288.5 1538.67 1292.5 1544 1296C1549.33 1299.5 1557.33 1304.33 1560 1306C1562.33 1307 1569.33 1310 1574 1312C1578.67 1314 1583.67 1316.23 1588 1318C1592.33 1319.77 1596.57 1321.33 1600 1322.6C1603.43 1323.87 1607.17 1325.1 1608.6 1325.6L1620 1326.6"/>
<circle cx="1071.8" cy="1296.5" r="3.25" fill="#F14040" stroke="none"/>
<path stroke="#1A6FDF" d="M1071.8 1344.8C1072.32 1342.98 1073.6 1336.83 1074.9 1333.9C1076.2 1330.97 1077.65 1329.02 1079.6 1327.2C1081.55 1325.38 1083.75 1324.1 1086.6 1323C1089.45 1321.9 1092.42 1321 1096.7 1320.6C1100.98 1320.2 1107.1 1320.53 1112.3 1320.6C1117.5 1320.67 1122.7 1321.13 1127.9 1321C1133.1 1320.87 1138.32 1320.52 1143.5 1319.8C1148.68 1319.08 1154.92 1317.57 1159 1316.7C1163.08 1315.83 1163.83 1315.65 1168 1314.6C1172.17 1313.55 1178.67 1311.67 1184 1310.4C1189.33 1309.13 1194.67 1308 1200 1307C1205.33 1306 1210.67 1305.07 1216 1304.4C1221.33 1303.73 1226.67 1303.33 1232 1303C1237.33 1302.67 1243.33 1302.43 1248 1302.4C1252.67 1302.37 1256 1302.6 1260 1302.8C1264 1303 1270 1303.47 1272 1303.6C1274.33 1303.37 1281.33 1302.77 1286 1302.2C1290.67 1301.63 1295.33 1300.93 1300 1300.2C1304.67 1299.47 1309.33 1298.7 1314 1297.8C1318.67 1296.9 1323.33 1296 1328 1294.8C1332.67 1293.6 1337.33 1292.1 1342 1290.6C1346.67 1289.1 1351.33 1287.43 1356 1285.8C1360.67 1284.17 1365.33 1282.37 1370 1280.8C1374.67 1279.23 1379.33 1277.73 1384 1276.4C1388.67 1275.07 1393.17 1273.8 1398 1272.8C1402.83 1271.8 1410.5 1270.8 1413 1270.4C1415.17 1269.4 1421.5 1266.53 1426 1264.4C1430.5 1262.27 1435.33 1260 1440 1257.6C1444.67 1255.2 1449.33 1252.77 1454 1250C1458.67 1247.23 1463.33 1244.07 1468 1241C1472.67 1237.93 1477.1 1234.77 1482 1231.6C1486.9 1228.43 1494.83 1223.6 1497.4 1222C1499.83 1223.33 1506.9 1227.17 1512 1230C1517.1 1232.83 1522.67 1235.9 1528 1239C1533.33 1242.1 1538.67 1245.5 1544 1248.6C1549.33 1251.7 1557.33 1256.1 1560 1257.6C1562.33 1258.6 1569.33 1261.7 1574 1263.6C1578.67 1265.5 1583.67 1267.33 1588 1269C1592.33 1270.67 1596.57 1272.43 1600 1273.6C1603.43 1274.77 1607.17 1275.6 1608.6 1276L1620 1277.4"/>
<circle cx="1071.8" cy="1344.8" r="3.25" fill="#1A6FDF" stroke="none"/>
<path stroke="#37AD6B" d="M1071.8 1365.8C1072.45 1363.98 1074.13 1357.75 1075.7 1354.9C1077.27 1352.05 1079 1350.52 1081.2 1348.7C1083.4 1346.88 1085.67 1345.17 1088.9 1344C1092.13 1342.83 1096.7 1342.15 1100.6 1341.7C1104.5 1341.25 1107.75 1341.5 1112.3 1341.3C1116.85 1341.1 1122.7 1340.83 1127.9 1340.5C1133.1 1340.17 1138.32 1339.8 1143.5 1339.3C1148.68 1338.8 1154.92 1337.98 1159 1337.5C1163.08 1337.02 1163.83 1336.95 1168 1336.4C1172.17 1335.85 1178.67 1335 1184 1334.2C1189.33 1333.4 1194.67 1332.37 1200 1331.6C1205.33 1330.83 1210.67 1330.13 1216 1329.6C1221.33 1329.07 1226.67 1328.67 1232 1328.4C1237.33 1328.13 1243.33 1328.07 1248 1328C1252.67 1327.93 1256 1328 1260 1328C1264 1328 1270 1328 1272 1328C1274.33 1327.73 1281.33 1327.03 1286 1326.4C1290.67 1325.77 1295.33 1325 1300 1324.2C1304.67 1323.4 1309.33 1322.57 1314 1321.6C1318.67 1320.63 1323.33 1319.6 1328 1318.4C1332.67 1317.2 1337.33 1315.9 1342 1314.4C1346.67 1312.9 1351.33 1311.07 1356 1309.4C1360.67 1307.73 1365.33 1305.9 1370 1304.4C1374.67 1302.9 1379.33 1301.53 1384 1300.4C1388.67 1299.27 1393.17 1298.5 1398 1297.6C1402.83 1296.7 1410.5 1295.43 1413 1295C1415.17 1294.23 1421.5 1291.97 1426 1290.4C1430.5 1288.83 1435.33 1287.17 1440 1285.6C1444.67 1284.03 1449.33 1282.5 1454 1281C1458.67 1279.5 1463.33 1278.03 1468 1276.6C1472.67 1275.17 1477.1 1273.9 1482 1272.4C1486.9 1270.9 1494.83 1268.4 1497.4 1267.6C1499.83 1266.27 1506.9 1262.7 1512 1259.6C1517.1 1256.5 1522.67 1252.93 1528 1249C1533.33 1245.07 1538.67 1240.4 1544 1236C1549.33 1231.6 1557.33 1224.83 1560 1222.6C1562.33 1223.5 1569.33 1226.03 1574 1228C1578.67 1229.97 1583.67 1232.4 1588 1234.4C1592.33 1236.4 1596.57 1238.57 1600 1240C1603.43 1241.43 1607.17 1242.5 1608.6 1243L1620 1245"/>
<circle cx="1071.8" cy="1365.8" r="3.25" fill="#37AD6B" stroke="none"/>
<path stroke="#B177DE" d="M1071.4 1378.3C1072.12 1377 1074.07 1372.85 1075.7 1370.5C1077.33 1368.15 1079 1366.15 1081.2 1364.2C1083.4 1362.25 1085.67 1360.28 1088.9 1358.8C1092.13 1357.32 1096.7 1356.08 1100.6 1355.3C1104.5 1354.52 1107.75 1354.45 1112.3 1354.1C1116.85 1353.75 1122.7 1353.52 1127.9 1353.2C1133.1 1352.88 1138.32 1352.5 1143.5 1352.2C1148.68 1351.9 1154.92 1351.67 1159 1351.4C1163.08 1351.13 1163.83 1351.07 1168 1350.6C1172.17 1350.13 1178.67 1349.27 1184 1348.6C1189.33 1347.93 1194.67 1347.17 1200 1346.6C1205.33 1346.03 1210.67 1345.6 1216 1345.2C1221.33 1344.8 1226.67 1344.43 1232 1344.2C1237.33 1343.97 1243.33 1343.9 1248 1343.8C1252.67 1343.7 1256 1343.67 1260 1343.6C1264 1343.53 1270 1343.43 1272 1343.4C1274.33 1343.23 1281.33 1342.9 1286 1342.4C1290.67 1341.9 1295.33 1341.2 1300 1340.4C1304.67 1339.6 1309.33 1338.67 1314 1337.6C1318.67 1336.53 1323.33 1335.27 1328 1334C1332.67 1332.73 1337.33 1331.33 1342 1330C1346.67 1328.67 1351.33 1327.33 1356 1326C1360.67 1324.67 1365.33 1323.27 1370 1322C1374.67 1320.73 1379.33 1319.47 1384 1318.4C1388.67 1317.33 1393.17 1316.5 1398 1315.6C1402.83 1314.7 1410.5 1313.43 1413 1313C1415.17 1312.33 1421.5 1310.33 1426 1309C1430.5 1307.67 1435.33 1306.33 1440 1305C1444.67 1303.67 1449.33 1302.33 1454 1301C1458.67 1299.67 1463.33 1298.27 1468 1297C1472.67 1295.73 1477.1 1294.67 1482 1293.4C1486.9 1292.13 1494.83 1290.07 1497.4 1289.4C1499.83 1288.33 1506.9 1285.4 1512 1283C1517.1 1280.6 1522.67 1277.67 1528 1275C1533.33 1272.33 1538.67 1269.67 1544 1267C1549.33 1264.33 1557.33 1260.33 1560 1259C1562.33 1257.17 1569.33 1252.17 1574 1248C1578.67 1243.83 1583.67 1238.67 1588 1234C1592.33 1229.33 1596.57 1224 1600 1220C1603.43 1216 1607.17 1211.67 1608.6 1210L1620 1212.4"/>
<circle cx="1071.4" cy="1378.3" r="3.25" fill="#B177DE" stroke="none"/>
</g>
<g class="tk" text-anchor="middle">
<text transform="translate(1069.1 1465.55) scale(1 1.04)">0</text>
<text transform="translate(1203.26 1465.55) scale(1 1.04)">1</text>
<text transform="translate(1337.42 1465.55) scale(1 1.04)">2</text>
<text transform="translate(1471.58 1465.55) scale(1 1.04)">3</text>
<text transform="translate(1605.74 1465.55) scale(1 1.04)">4</text>
<text transform="translate(1739.9 1465.55) scale(1 1.04)">5</text>
</g>
<g class="tk" text-anchor="end">
<text transform="translate(1050.9 1431.3) scale(1 1.04)">0</text>
<text transform="translate(1050.9 1296.51) scale(1 1.04)">6</text>
<text transform="translate(1050.9 1161.73) scale(1 1.04)">12</text>
<text transform="translate(1050.9 1026.94) scale(1 1.04)">18</text>
<text transform="translate(1050.9 892.15) scale(1 1.04)">24</text>
</g>
<text class="lab" text-anchor="middle" transform="translate(1405 1527.05) scale(1 1.01)">Discharge capacity (Ah)</text>
<g transform="translate(978.4 1133.65) rotate(-90)"><text class="lab" transform="translate(-55.41 0) scale(1 1.045)">C</text><text class="lab" x="-14.71" y="0">rate</text></g>
<text class="pan" x="963.8" y="817.3">(d)</text>
<g class="tit">
<text x="1317.5" y="860.6">Δ</text>
<text x="1351.3" y="860.6" font-style="italic">R</text>
<text transform="translate(1398.8 865.3) scale(1.09 1)">=</text>
<text x="1437 1463.8" y="860.6">10</text>
<rect x="1358.6" y="812.5" width="27.7" height="3" fill="#000"/>
</g>
<g class="leg">
<line x1="1157.1" y1="914.5" x2="1242.1" y2="914.5" stroke="#515151" stroke-width="6.2"/>
<text x="1252.1" y="927.6" font-style="italic">k</text>
<text transform="translate(1277.8 927.6) scale(1.12 1)">=</text>
<text x="1310.1" y="927.6">1</text>
<line x1="1157.1" y1="961.7" x2="1242.1" y2="961.7" stroke="#F14040" stroke-width="6.2"/>
<text x="1252.1" y="974.8" font-style="italic">k</text>
<text transform="translate(1277.8 974.8) scale(1.12 1)">=</text>
<text x="1310.1" y="974.8">2</text>
<line x1="1157.1" y1="1008.9" x2="1242.1" y2="1008.9" stroke="#1A6FDF" stroke-width="6.2"/>
<text x="1252.1" y="1022" font-style="italic">k</text>
<text transform="translate(1277.8 1022) scale(1.12 1)">=</text>
<text x="1310.1" y="1022">3</text>
<line x1="1498.6" y1="914.5" x2="1583.6" y2="914.5" stroke="#37AD6B" stroke-width="6.2"/>
<text x="1593.6" y="927.6" font-style="italic">k</text>
<text transform="translate(1619.3 927.6) scale(1.12 1)">=</text>
<text x="1651.6" y="927.6">4</text>
<line x1="1498.6" y1="961.7" x2="1583.6" y2="961.7" stroke="#B177DE" stroke-width="6.2"/>
<text x="1593.6" y="974.8" font-style="italic">k</text>
<text transform="translate(1619.3 974.8) scale(1.12 1)">=</text>
<text x="1651.6" y="974.8">5</text>
</g>
</g>
</svg></body></html>
